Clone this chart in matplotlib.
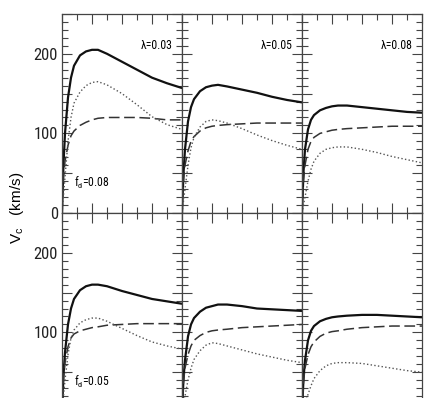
import numpy as np
import matplotlib
matplotlib.use("Agg")
import matplotlib.pyplot as plt
from matplotlib.ticker import MultipleLocator, FuncFormatter

plt.rcParams['font.family'] = ['Roboto Condensed', 'DejaVu Sans']
plt.rcParams['mathtext.fontset'] = 'custom'
plt.rcParams['mathtext.rm'] = 'Roboto Condensed'
plt.rcParams['mathtext.default'] = 'regular'

# radius (kpc)
r = [0, 0.5, 1, 2, 3, 4, 6, 8, 10, 12, 15, 20, 25, 30, 35, 40]

lambdas = ['0.03', '0.05', '0.08']
fdisk = ['0.08', '0.05']

# total (solid), disk (dotted), halo (dashed) -- row f_d=0.08
tot_08 = [
    [0, 62, 100, 145, 170, 185, 198, 203, 205, 205, 200, 190, 180, 170, 163, 157],
    [0, 50, 80, 115, 133, 143, 153, 158, 160, 161, 159, 155, 151, 146, 142, 139],
    [0, 52, 80, 105, 117, 123, 129, 132, 134, 135, 135, 133, 131, 129, 127, 126],
]
disk_08 = [
    [0, 22, 45, 90, 120, 138, 152, 160, 164, 165, 161, 150, 136, 121, 111, 105],
    [0, 15, 30, 60, 82, 95, 108, 115, 117, 116, 113, 106, 98, 91, 85, 80],
    [0, 10, 20, 40, 55, 65, 75, 80, 82, 83, 83, 80, 76, 71, 67, 63],
]
halo_08 = [
    [0, 45, 65, 85, 97, 103, 110, 114, 117, 119, 120, 120, 120, 119, 117, 117],
    [0, 42, 60, 78, 90, 96, 103, 107, 109, 110, 111, 112, 113, 113, 113, 113],
    [0, 42, 60, 80, 90, 95, 100, 102, 104, 105, 106, 107, 108, 109, 109, 109],
]

# row f_d=0.05
tot_05 = [
    [0, 47, 75, 110, 130, 142, 153, 158, 160, 160, 158, 152, 147, 142, 139, 136],
    [0, 42, 65, 95, 110, 118, 126, 131, 133, 135, 135, 133, 130, 129, 128, 127],
    [0, 42, 65, 90, 102, 108, 114, 117, 119, 120, 121, 122, 122, 121, 120, 119],
]
disk_05 = [
    [0, 20, 40, 72, 93, 103, 112, 116, 118, 118, 114, 105, 96, 88, 83, 79],
    [0, 10, 20, 40, 55, 66, 77, 84, 87, 86, 83, 78, 73, 69, 65, 62],
    [0, 5, 10, 22, 33, 42, 52, 58, 61, 62, 62, 61, 58, 55, 52, 50],
]
halo_05 = [
    [0, 43, 62, 82, 93, 98, 102, 104, 106, 107, 109, 110, 111, 111, 111, 111],
    [0, 38, 55, 72, 83, 90, 96, 100, 102, 103, 104, 106, 107, 108, 109, 110],
    [0, 38, 55, 72, 82, 88, 95, 99, 101, 102, 104, 106, 107, 108, 108, 108],
]

tot = [tot_08, tot_05]
disk = [disk_08, disk_05]
halo = [halo_08, halo_05]

W, H = 434, 398
fig = plt.figure(figsize=(W / 100, H / 100), dpi=100)

x0, pw = 62, 120
tops = [14, 213]
ph = 199
spine_c = '#444444'

def lab_top(v, pos):
    return '%d' % v if v % 100 == 0 else ''

def lab_bot(v, pos):
    return '%d' % v if v in (100, 200) else ''

for i in range(2):
    for j in range(3):
        left = (x0 + j * pw) / W
        bottom = 1 - (tops[i] + ph) / H
        ax = fig.add_axes([left, bottom, pw / W, ph / H])
        ax.plot(r, tot[i][j], '-', color='#111111', lw=1.6)
        ax.plot(r, halo[i][j], '--', color='#333333', lw=1.1, dashes=(7, 3))
        ax.plot(r, disk[i][j], ':', color='#555555', lw=1.0)
        ax.set_xlim(0, 40)
        ax.set_ylim(0, 250)
        ax.xaxis.set_major_locator(MultipleLocator(10))
        ax.xaxis.set_minor_locator(MultipleLocator(5))
        ax.yaxis.set_major_locator(MultipleLocator(50))
        ax.yaxis.set_minor_locator(MultipleLocator(10))
        ax.tick_params(which='both', direction='in', top=True, right=True,
                       colors=spine_c, labelcolor='#222222', width=0.8)
        ax.tick_params(which='major', length=7)
        ax.tick_params(which='minor', length=4)
        ax.tick_params(labelbottom=False, labelsize=12, pad=3)
        if j == 0:
            ax.yaxis.set_major_formatter(FuncFormatter(lab_top if i == 0 else lab_bot))
        else:
            ax.tick_params(labelleft=False)
        for s in ax.spines.values():
            s.set_color(spine_c)
            s.set_linewidth(0.9)
        if i == 0:
            ax.text(0.92, 0.84, 'λ=' + lambdas[j], transform=ax.transAxes,
                    ha='right', va='center', fontsize=8.5)
        if j == 0:
            ax.text(0.1, 0.15, r'f$_d$=' + fdisk[i], transform=ax.transAxes,
                    ha='left', va='center', fontsize=8.5)

fig.text(17 / W, 1 - 208 / H, r'V$_c$   (km/s)', rotation=90, ha='center',
         va='center', fontsize=11, family=['Liberation Sans', 'DejaVu Sans'])

fig.savefig('out.png', dpi=100)
